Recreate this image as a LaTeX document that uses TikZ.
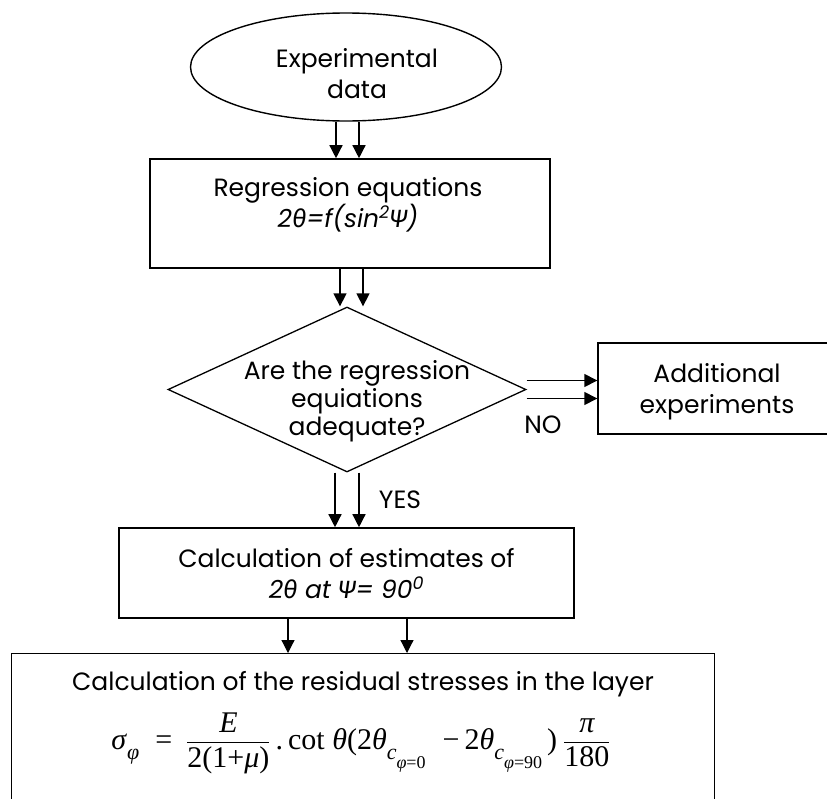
\documentclass[tikz,border=0pt]{standalone}
\usepackage{fontspec}
\usepackage{amsmath}
\setmainfont{Poppins}
\newfontfamily\grk{Fira Sans}
\newfontfamily\tnr{Liberation Serif}
\usetikzlibrary{shapes.geometric, arrows.meta}
\tikzstyle{blk} = [draw, rectangle, line width=1.6pt, inner sep=0pt]
\tikzstyle{lbl} = [align=center, inner sep=0pt, font=\fontsize{25}{31}\selectfont]
\tikzstyle{arr} = [-{Triangle[width=13pt,length=13pt]}, line width=1.4pt]
\newcommand{\subA}[1]{\raisebox{-10pt}{\fontsize{22}{22}\selectfont\itshape #1}}
\newcommand{\subB}[1]{\raisebox{-19pt}{\fontsize{18}{18}\selectfont #1}}

\begin{document}
\begin{tikzpicture}[x=1pt, y=-1pt]
	\useasboundingbox (0,0) rectangle (827,798);
	% blocks
	\node[draw, ellipse, line width=1.4pt, minimum width=311pt, minimum height=108pt, inner sep=0pt] (data) at (346,67) {};
	\node[lbl] (datatxt) at (357,74) {Experimental\\data};
	\node[blk, minimum width=400pt, minimum height=109pt] (regr) at (350,213.5) {};
	\node[lbl] (regrtxt) at (348,205) {Regression equations\\\textit{2{\grk θ}=f(sin\textsuperscript{2}{\grk Ψ})}};
	\node[draw, diamond, line width=1.3pt, minimum width=358pt, minimum height=165pt, inner sep=0pt] (q) at (347,389.5) {};
	\node[lbl, font=\fontsize{25}{28}\selectfont] (qtxt) at (357,401) {Are the regression\\equiations\\adequate?};
	\node[blk, line width=1.4pt, minimum width=238pt, minimum height=91pt] (add) at (717,388.5) {};
	\node[lbl] (addtxt) at (717,392) {Additional\\experiments};
	\node[blk, minimum width=455pt, minimum height=90pt] (calc) at (346.5,573) {};
	\node[lbl] (calctxt) at (346.5,574) {Calculation of estimates of\\\textit{2{\grk θ} at {\grk Ψ}= 90\textsuperscript{0}}};
	\node[blk, line width=1pt, minimum width=703pt, minimum height=170pt, anchor=north west] (res) at (11,653) {};
	\node[lbl] (restxt) at (363,684) {Calculation of the residual stresses in the layer};
	\node[inner sep=0pt, font=\fontsize{30}{32}\selectfont\tnr] (formula) at (361,743) {%
		\textit{σ}\subA{φ}\hspace{16pt}=\hspace{14pt}%
		$\dfrac{\mbox{\itshape E}}{\mbox{2(1+\textit{μ})}}$\,.\,cot \textit{θ}(2\textit{θ}\subA{c}\subB{\textit{φ}=0}\hspace{17pt}−\,2\textit{θ}\subA{c}\subB{\textit{φ}=90}\hspace{5pt})\hspace{6pt}%
		$\dfrac{\mbox{\itshape π}}{\mbox{180}}$};
	% labels
	\node[lbl] (no) at (543,425) {NO};
	\node[lbl] (yes) at (400,500) {YES};
	% connectors
	\foreach \dx in {-10,13} {
		\draw[arr] ([xshift=\dx pt]data.south) -- ([xshift=\dx pt]data.south |- regr.north);
		\draw[arr] ([xshift=\dx pt]regr.south) -- ([xshift=\dx pt]regr.south |- q.north);
	}
	\foreach \dx in {-12,12} \draw[arr] ([xshift=\dx pt]q.south) -- ([xshift=\dx pt]q.south |- calc.north);
	\foreach \dy in {9,-9} \draw[arr] ([yshift=\dy pt]q.east) -- ([yshift=\dy pt]q.east -| add.west);
	\foreach \dx in {-58.5,60.5} \draw[arr, line width=1.2pt] ([xshift=\dx pt]calc.south) -- ([xshift=\dx pt]calc.south |- res.north);
\end{tikzpicture}
\end{document}
